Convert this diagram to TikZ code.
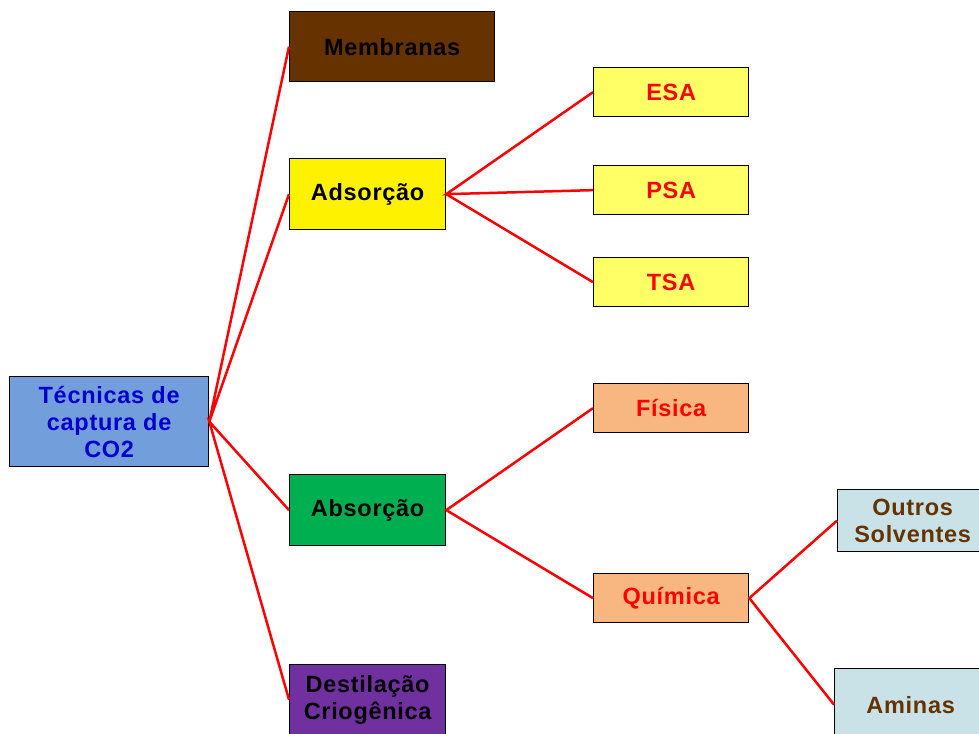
\documentclass[tikz,border=0pt]{standalone}
\usepackage{fontspec}
\setmainfont[LetterSpace=3]{Liberation Sans}
\begin{document}
\begin{tikzpicture}[x=1pt,y=-1pt,
  box/.style={draw=black,line width=1.3pt,inner sep=0pt,anchor=north west,align=center,
    font=\fontsize{23.5}{27}\selectfont\bfseries},
  link/.style={draw=red,line width=2.5pt}]
\useasboundingbox (0,0) rectangle (979,733);
\clip (0,0) rectangle (979,733);
\definecolor{cblue}{HTML}{729FDC}
\definecolor{cbrown}{HTML}{663300}
\definecolor{cgreen}{HTML}{00B050}
\definecolor{cpurple}{HTML}{7030A0}
\definecolor{clyellow}{HTML}{FFFF66}
\definecolor{corange}{HTML}{F8B780}
\definecolor{clblue}{HTML}{C9E2E8}
\definecolor{ctblue}{HTML}{0000CC}

\node[box,fill=cblue,text=ctblue,minimum width=199pt,minimum height=90pt] (tec) at (9,376) {Técnicas de\\captura de\\CO2};
\node[box,fill=cbrown,text=black,minimum width=205pt,minimum height=70pt] (mem) at (289,11) {Membranas};
\node[box,fill=yellow,text=black,minimum width=156pt,minimum height=71pt] (ads) at (289,158) {Adsorção};
\node[box,fill=cgreen,text=black,minimum width=156pt,minimum height=71pt] (abs) at (289,474) {Absorção};
\node[box,fill=cpurple,text=black,minimum width=156pt,minimum height=70pt] (des) at (289,664) {Destilação\\Criogênica};
\node[box,fill=clyellow,text=red,minimum width=155pt,minimum height=49pt] (esa) at (593,67) {ESA};
\node[box,fill=clyellow,text=red,minimum width=155pt,minimum height=49pt] (psa) at (593,165) {PSA};
\node[box,fill=clyellow,text=red,minimum width=155pt,minimum height=49pt] (tsa) at (593,257) {TSA};
\node[box,fill=corange,text=red,minimum width=155pt,minimum height=49pt] (fis) at (593,383) {Física};
\node[box,fill=corange,text=red,minimum width=155pt,minimum height=49pt] (qui) at (593,573) {Química};
\node[box,fill=clblue,text=cbrown,minimum width=150pt,minimum height=62pt] (out) at (837,489) {Outros\\Solventes};
\node[box,fill=clblue,text=cbrown,minimum width=152pt,minimum height=72pt] (ami) at (834,668) {Aminas};

\draw[link] (mem.west) -- (tec.east) -- (ads.west);
\draw[link] (abs.west) -- (tec.east) -- (des.west);
\draw[link] (esa.west) -- (ads.east) -- (psa.west);
\draw[link] (ads.east) -- (tsa.west);
\draw[link] (fis.west) -- (abs.east) -- (qui.west);
\draw[link] (out.west) -- (qui.east) -- (ami.west);
\end{tikzpicture}
\end{document}
